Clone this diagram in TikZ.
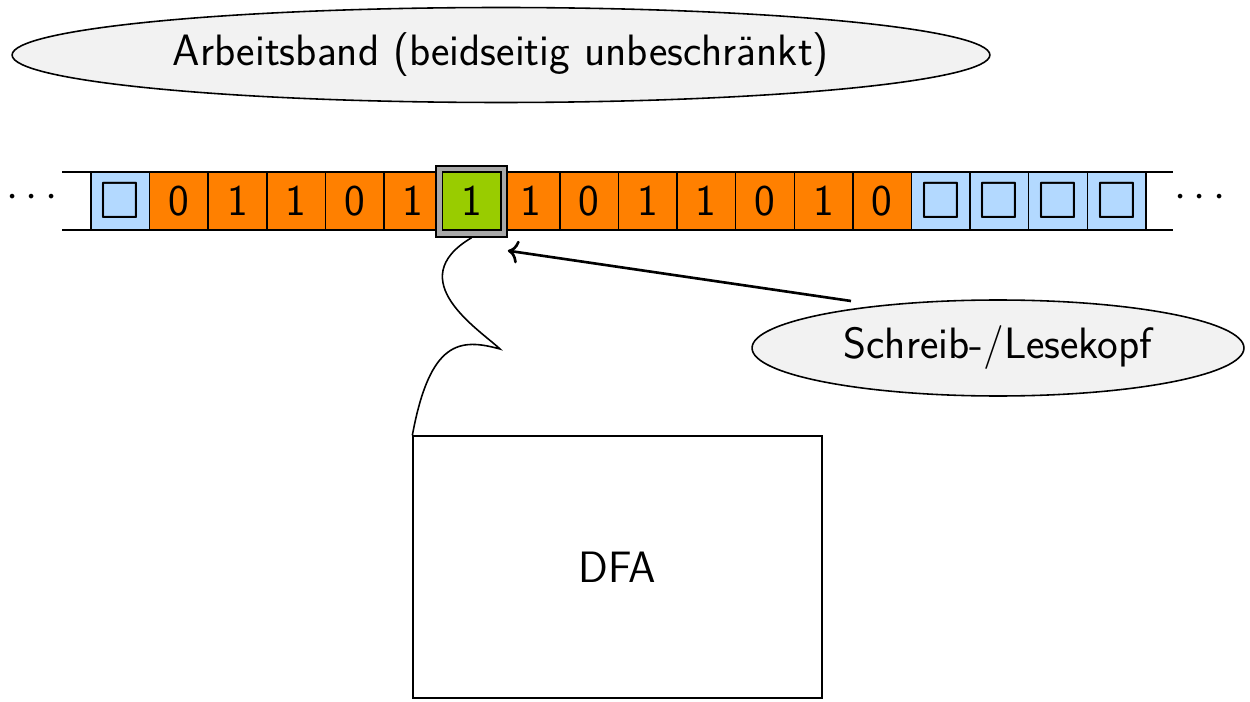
\documentclass[tikz,border=0pt]{standalone}
\usepackage{amssymb}
\usetikzlibrary{shapes.geometric,calc,arrows.meta}
\definecolor{bandblue}{HTML}{B3D9FF}
\definecolor{bandorange}{HTML}{FF8000}
\definecolor{bandgreen}{HTML}{99CC00}
\definecolor{ellgray}{HTML}{F2F2F2}
\definecolor{headgray}{HTML}{A8A8A8}
\newcommand{\blanksym}{{\fontsize{30}{30}\selectfont$\square$}}
\begin{document}
\begin{tikzpicture}[x=0.02cm,y=-0.02cm,
  every node/.style={font=\sffamily\fontsize{25}{29}\selectfont},
  cell/.style={draw=black,line width=0.8pt,minimum width=1.172cm,minimum height=1.16cm,inner sep=0pt,anchor=center},
  blankcell/.style={cell,fill=bandblue},
  symcell/.style={cell,fill=bandorange},
  headcell/.style={cell,fill=bandgreen},
  label/.style={ellipse,draw=black,line width=0.9pt,fill=ellgray,inner sep=0pt},
  tapeline/.style={line width=1pt}
]
\useasboundingbox (0,0) rectangle (1250,702);

% label ellipses
\node[label,minimum width=19.56cm,minimum height=1.9cm] (ab) at (501,55) {Arbeitsband (beidseitig unbeschränkt)};
\node[label,minimum width=9.84cm,minimum height=1.92cm] (lk) at (998,348) {Schreib-/Lesekopf};

% tape lines
\coordinate (tl1) at (62,172);
\coordinate (tr1) at (1173,172);
\coordinate (tl2) at (62,230);
\coordinate (tr2) at (1173,230);
\draw[tapeline] (tl1) -- (tr1);
\draw[tapeline] (tl2) -- (tr2);

% cells
\foreach \i/\s/\st in {0/\blanksym/blankcell,1/0/symcell,2/1/symcell,3/1/symcell,4/0/symcell,5/1/symcell,
  7/1/symcell,8/0/symcell,9/1/symcell,10/1/symcell,11/0/symcell,12/1/symcell,13/0/symcell,
  14/\blanksym/blankcell,15/\blanksym/blankcell,16/\blanksym/blankcell,17/\blanksym/blankcell}{
  \node[\st] (c\i) at ({120.3+\i*58.6},201) {\s};
}

% head frame and head cell
\node[draw=black,line width=0.8pt,fill=headgray,minimum width=1.42cm,minimum height=1.42cm,inner sep=0pt] (frame) at (471.6,201.5) {};
\node[headcell] (c6) at (471.9,201) {1};

% dots
\node (dl) at (32,198) {$\cdots$};
\node (dr) at (1200,198) {$\cdots$};

% DFA box
\node[draw=black,line width=0.8pt,minimum width=8.18cm,minimum height=5.24cm,inner sep=0pt] (dfa) at (617.5,567) {DFA};

% arrow from label to head
\coordinate (as) at (851,301);
\coordinate (ae) at ($(frame.south east)+(0,13)$);
\draw[-{To[length=6pt,width=13pt]},line width=1.5pt] (as) -- (ae);

% wavy connector head -> DFA
\coordinate (hook) at (500,349);
\draw[line width=0.9pt] (frame.south) .. controls (400,280) and (480,330) .. (hook)
  .. controls (460,338) and (430,340) .. (dfa.north west);
\end{tikzpicture}
\end{document}
